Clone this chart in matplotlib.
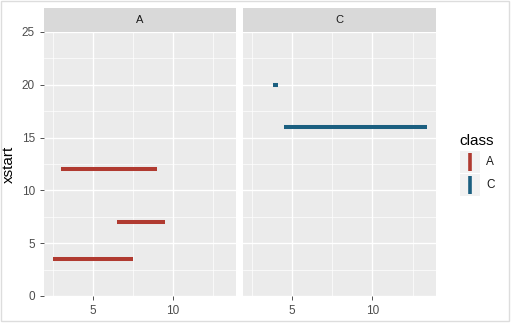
import matplotlib.pyplot as plt
from matplotlib.patches import Rectangle
from matplotlib.lines import Line2D

# segments per class
classes = ['A', 'C']
x_start = {'A': [2.5, 6.5, 3.0], 'C': [3.8, 4.5]}
x_end = {'A': [7.5, 9.5, 9.0], 'C': [4.15, 13.4]}
y_pos = {'A': [3.5, 7.0, 12.0], 'C': [20.0, 16.0]}
colors = {'A': '#B03A30', 'C': '#1B5F80'}

x_ticks = [5, 10]
y_ticks = [0, 5, 10, 15, 20, 25]


def main():
    plt.rcParams['font.family'] = ['Liberation Sans', 'DejaVu Sans']
    W, H = 518, 323
    fig = plt.figure(figsize=(W / 100, H / 100), dpi=100)
    fig.patch.set_facecolor('white')

    panels = [(44, 236), (242.7, 436)]
    top, bottom, strip_top = 32, 296, 8
    for cls, (l, r) in zip(classes, panels):
        ax = fig.add_axes([l / W, 1 - bottom / H, (r - l) / W, (bottom - top) / H])
        ax.set_facecolor('#EBEBEB')
        ax.set_xlim(1.95, 13.95)
        ax.set_ylim(0, 25)
        for v in [2.5, 7.5, 12.5]:
            ax.axvline(v, color='white', lw=0.5, zorder=0)
        for v in [2.5, 7.5, 12.5, 17.5, 22.5]:
            ax.axhline(v, color='white', lw=0.5, zorder=0)
        for v in x_ticks:
            ax.axvline(v, color='white', lw=1.0, zorder=0)
        for v in y_ticks:
            ax.axhline(v, color='white', lw=1.0, zorder=0)
        for s, e, y in zip(x_start[cls], x_end[cls], y_pos[cls]):
            ax.plot([s, e], [y, y], color=colors[cls], lw=2.9,
                    solid_capstyle='butt', zorder=3)
        for sp in ax.spines.values():
            sp.set_visible(False)
        ax.set_xticks(x_ticks)
        ax.set_yticks(y_ticks)
        ax.tick_params(colors='#333333', labelcolor='#4D4D4D', labelsize=8.5,
                       length=3, width=0.6)
        if cls != 'A':
            ax.tick_params(axis='y', left=False, labelleft=False)
        else:
            ax.set_ylabel('xstart', fontsize=11, labelpad=4)
        # facet strip
        sax = fig.add_axes([l / W, 1 - top / H, (r - l) / W, (top - strip_top) / H])
        sax.set_facecolor('#D9D9D9')
        sax.set_xticks([])
        sax.set_yticks([])
        for sp in sax.spines.values():
            sp.set_visible(False)
        sax.text(0.5, 0.5, cls, ha='center', va='center', fontsize=8,
                 color='#1A1A1A', transform=sax.transAxes)

    # legend
    fig.text(459 / W, 1 - 141 / H, 'class', fontsize=11, va='center', ha='left')
    for i, cls in enumerate(classes):
        yc = 162 + i * 23
        fig.patches.append(Rectangle(((470 - 10) / W, 1 - (yc + 11) / H), 20 / W, 22 / H,
                                     transform=fig.transFigure, facecolor='#F2F2F2',
                                     edgecolor='none'))
        fig.lines.append(Line2D([470 / W, 470 / W], [1 - (yc - 9) / H, 1 - (yc + 9) / H],
                                transform=fig.transFigure, color=colors[cls], lw=2.6,
                                solid_capstyle='butt'))
        fig.text(486 / W, 1 - yc / H, cls, fontsize=8.5, va='center', ha='left',
                 color='#1A1A1A')

    # light frame round the image
    fig.patches.append(Rectangle((0.5 / W, 1 - 320.5 / H), 508.5 / W, 320 / H,
                                 transform=fig.transFigure, facecolor='none',
                                 edgecolor='#DDDDDD', lw=1))

    fig.savefig('out.png', dpi=100)


if __name__ == '__main__':
    main()
